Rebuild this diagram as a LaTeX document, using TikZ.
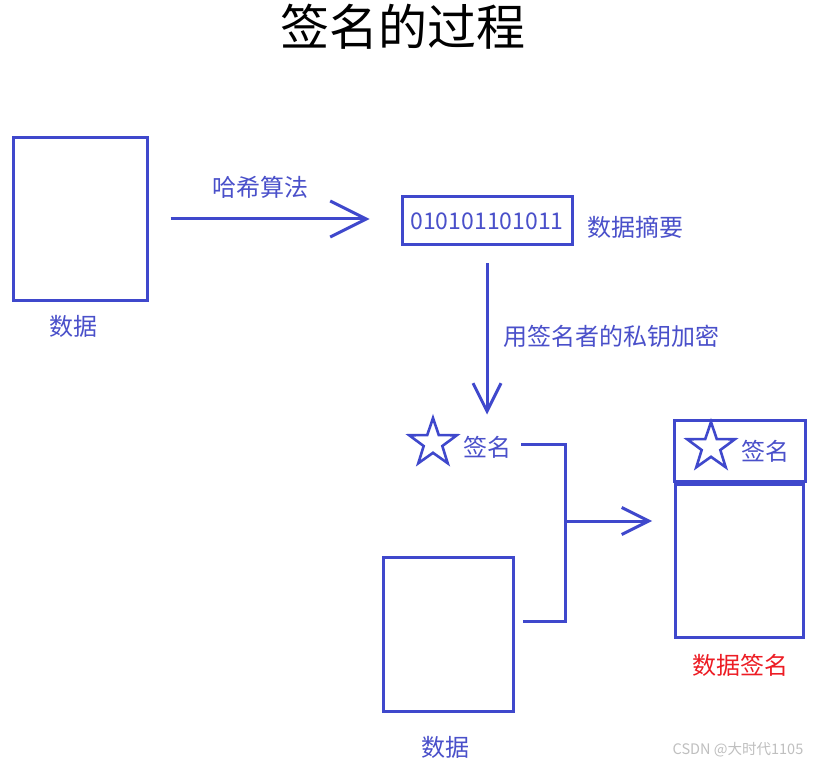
\documentclass[tikz,border=0pt]{standalone}
\usepackage{fontspec}
\setmainfont{Noto Sans CJK SC}
\usetikzlibrary{arrows.meta,shapes.geometric}
\definecolor{ink}{HTML}{3F48CC}
\definecolor{txt}{HTML}{4A50CA}
\definecolor{redtxt}{HTML}{ED1C24}
\tikzset{
  box/.style={draw=ink,line width=3pt,inner sep=0pt},
  lbl/.style={text=txt,font=\fontsize{24}{26}\selectfont,inner sep=0pt},
  conn/.style={draw=ink,line width=3pt},
  arr/.style={conn,-{Straight Barb[length=#1,width=#1,line width=3pt]}},
  arr/.default=36pt,
  starbox/.style={draw=ink,line width=2.6pt,star,star points=5,star point ratio=2.55,minimum size=50pt,inner sep=0pt},
}
\begin{document}
\begin{tikzpicture}[x=1pt,y=-1pt]
\useasboundingbox[fill=white] (0,0) rectangle (824,767);
% title
\node[font=\fontsize{49}{52}\selectfont,inner sep=0pt] (title) at (403,27) {签名的过程};
% left data box
\node[box,minimum width=134pt,minimum height=162pt] (box1) at (80,219) {};
\node[lbl] (data1) at (73,326) {数据};
% digest
\node[box,minimum width=170pt,minimum height=48pt,text=txt,font=\fontsize{23}{25}\selectfont] (box2) at (487,221) {010101101011};
\node[lbl] (digest) at (635,227) {数据摘要};
\draw[arr=36pt] ([xshift=22pt]box1.east) -- ([xshift=-31pt]box2.west |- box1.east);
\node[lbl] (hash) at (260,187) {哈希算法};
% encryption arrow
\node[lbl] (enc) at (611,336) {用签名者的私钥加密};
\draw[arr=28pt] ([yshift=-17pt]box2.south) -- ([yshift=-168pt]box2.south);
% signature
\node[starbox] (star1) at (433,443) {};
\node[lbl] (sig1) at (487,447) {签名};
% bottom data box
\node[box,minimum width=130pt,minimum height=154pt] (box3) at (448,634) {};
\node[lbl] (data3) at (445,747) {数据};
% bracket connector
\coordinate (a1) at (521,444);
\coordinate (j1) at (565,444);
\coordinate (j2) at (565,623);
\coordinate (b2) at (565,621);
\coordinate (a2) at (523,621);
\coordinate (jm) at (565,521);
\coordinate (am) at (652,521);
\draw[conn] (a1) -- (j1) -- (j2);
\draw[conn] (a2) -- (b2);
\draw[arr=27pt] (jm) -- (am);
% result
\node[box,minimum width=131pt,minimum height=61pt] (sigbox) at (739.5,450.5) {};
\node[starbox] (star2) at (711,447) {};
\node[lbl] (sig2) at (765,451) {签名};
\node[box,minimum width=128pt,minimum height=153pt] (box4) at (739,560.5) {};
\node[lbl,text=redtxt] (result) at (740,665) {数据签名};
% watermark
\node[text=black!25,font=\fontsize{14.5}{16}\selectfont,inner sep=0pt] (wm) at (738,750) {CSDN @大时代1105};
\end{tikzpicture}
\end{document}
